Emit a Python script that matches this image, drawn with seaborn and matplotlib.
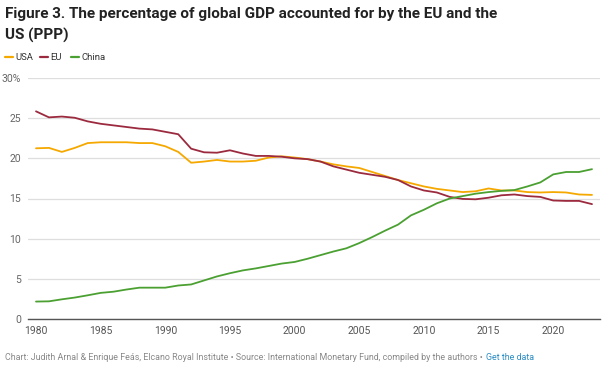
import numpy as np
import pandas as pd
import matplotlib.pyplot as plt
import seaborn as sns

sns.set_theme(style="white")

years = list(range(1980, 2024))

usa = [21.25, 21.3, 20.8, 21.3, 21.9, 22.0, 22.0, 22.0, 21.9, 21.9,
       21.5, 20.8, 19.45, 19.6, 19.8, 19.6, 19.6, 19.7, 20.1, 20.25,
       20.1, 19.9, 19.6, 19.25, 19.0, 18.8, 18.3, 17.8, 17.3, 16.9,
       16.5, 16.2, 16.0, 15.8, 15.9, 16.25, 16.0, 16.0, 15.8, 15.75,
       15.8, 15.75, 15.5, 15.45]

eu = [25.85, 25.1, 25.2, 25.05, 24.6, 24.3, 24.1, 23.9, 23.7, 23.6,
      23.3, 23.0, 21.2, 20.75, 20.7, 21.0, 20.6, 20.3, 20.3, 20.2,
      20.0, 19.9, 19.6, 19.0, 18.6, 18.2, 17.95, 17.7, 17.3, 16.5,
      16.0, 15.75, 15.2, 14.95, 14.9, 15.1, 15.4, 15.5, 15.3, 15.2,
      14.75, 14.7, 14.7, 14.3]

china = [2.17, 2.2, 2.45, 2.67, 2.95, 3.25, 3.4, 3.67, 3.9, 3.9,
         3.9, 4.17, 4.3, 4.8, 5.3, 5.7, 6.05, 6.3, 6.6, 6.9,
         7.1, 7.5, 7.95, 8.4, 8.8, 9.45, 10.2, 11.0, 11.75, 12.9,
         13.6, 14.4, 15.0, 15.3, 15.6, 15.8, 15.95, 16.05, 16.5, 17.0,
         18.0, 18.3, 18.3, 18.65]

series = ["USA", "EU", "China"]
colors = ["#f5a800", "#9c2a3e", "#4ba032"]
y_ticks = [0, 5, 10, 15, 20, 25, 30]
y_labels = ["0", "5", "10", "15", "20", "25", "30%"]
x_ticks = [1980, 1985, 1990, 1995, 2000, 2005, 2010, 2015, 2020]

df = pd.DataFrame({
    "year": years * 3,
    "share": usa + eu + china,
    "region": ["USA"] * len(years) + ["EU"] * len(years) + ["China"] * len(years),
})

plt.rcParams["font.family"] = ["Roboto", "DejaVu Sans"]

fig = plt.figure(figsize=(6.05, 3.69), dpi=100)
ax = fig.add_axes([28 / 605, 50 / 369, 572 / 605, 241 / 369])

sns.lineplot(data=df, x="year", y="share", hue="region", hue_order=series,
             palette=colors, linewidth=1.3, legend=False, ax=ax)

ax.set_xlim(1980 - 8 / 12.93, 2023 + 8 / 12.93)
ax.set_ylim(0, 30)
ax.set_yticks(y_ticks)
ax.set_yticklabels(y_labels)
ax.set_xticks(x_ticks)
ax.set_xticklabels([str(x) for x in x_ticks])
ax.set_xlabel("")
ax.set_ylabel("")
ax.grid(axis="y", color="#dedede", linewidth=0.9)
ax.set_axisbelow(True)
for s in ["top", "right", "left"]:
    ax.spines[s].set_visible(False)
ax.spines["bottom"].set_color("#555555")
ax.spines["bottom"].set_linewidth(1.0)
ax.tick_params(axis="y", length=0, pad=5, labelsize=7.5, labelcolor="#666666")
ax.tick_params(axis="x", length=0, pad=5, labelsize=7.5, labelcolor="#555555")

fig.text(5 / 605, 1 - 18 / 369, "Figure 3. The percentage of global GDP accounted for by the EU and the",
         fontsize=11, fontweight="bold", color="#222222", va="baseline")
fig.text(5 / 605, 1 - 40 / 369, "US (PPP)",
         fontsize=11, fontweight="bold", color="#222222", va="baseline")

# legend drawn by hand so it sits like the original
x0 = 5
for name, col, w in zip(series, colors, [35, 31, 0]):
    fig.add_artist(plt.Line2D([x0 / 605, (x0 + 8) / 605], [1 - 57 / 369] * 2,
                              color=col, linewidth=1.6, transform=fig.transFigure))
    fig.text((x0 + 10) / 605, 1 - 57 / 369, name, fontsize=6.8,
             color="#333333", va="center")
    x0 += w

foot = fig.text(5 / 605, 1 - 357 / 369,
                "Chart: Judith Arnal & Enrique Feás, Elcano Royal Institute \u2022 Source: International Monetary Fund, compiled by the authors \u2022",
                fontsize=6.4, color="#888888", va="center")
fig.canvas.draw()
bb = foot.get_window_extent()
fig.text((bb.x1 + 3) / 605, 1 - 357 / 369, "Get the data", fontsize=6.4,
         color="#2a8cc4", va="center")

fig.savefig("out.png", dpi=100)
